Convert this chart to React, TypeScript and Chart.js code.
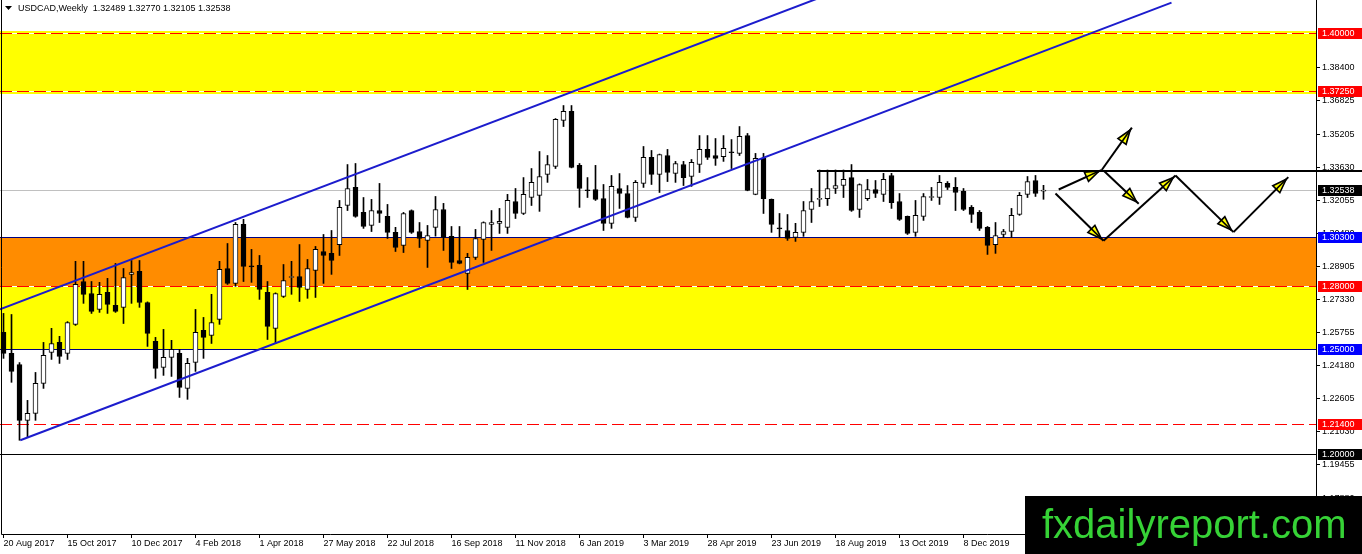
import React, { useEffect, useRef } from "react";
import { Chart, registerables } from "chart.js";
Chart.register(...registerables);

// ---------- DATA (weekly USDCAD candles, index 0 = week of 20 Aug 2017) ----------
const opens = [
  1.2577, 1.2477, 1.2424, 1.2158, 1.2191, 1.2334, 1.2481, 1.2529, 1.2477, 1.2615,
  1.2819, 1.2762, 1.2686, 1.2767, 1.2705, 1.2696, 1.2853, 1.2867, 1.2719, 1.2534,
  1.2410, 1.2458, 1.2477, 1.2310, 1.2434, 1.2586, 1.2562, 1.2639, 1.2881, 1.2810,
  1.3091, 1.2891, 1.2896, 1.2767, 1.2596, 1.2748, 1.2838, 1.2843, 1.2781, 1.2872,
  1.2962, 1.2953, 1.2995, 1.3181, 1.3267, 1.3148, 1.3086, 1.3157, 1.3129, 1.3053,
  1.2991, 1.3157, 1.3057, 1.3015, 1.3077, 1.3162, 1.3034, 1.2919, 1.2858, 1.2934,
  1.3019, 1.3091, 1.3096, 1.3077, 1.3200, 1.3143, 1.3219, 1.3229, 1.3329, 1.3367,
  1.3586, 1.3629, 1.3372, 1.3253, 1.3257, 1.3214, 1.3096, 1.3262, 1.3238, 1.3124,
  1.3286, 1.3410, 1.3329, 1.3419, 1.3334, 1.3376, 1.3319, 1.3376, 1.3448, 1.3419,
  1.3414, 1.3434, 1.3429, 1.3514, 1.3234, 1.3405, 1.3210, 1.3072, 1.3062, 1.3029,
  1.3053, 1.3162, 1.3210, 1.3214, 1.3262, 1.3276, 1.3314, 1.3162, 1.3214, 1.3257,
  1.3234, 1.3324, 1.3200, 1.3129, 1.3053, 1.3129, 1.3219, 1.3219, 1.3286, 1.3267,
  1.3248, 1.3172, 1.3148, 1.3077, 1.2995, 1.3043, 1.3057, 1.3138, 1.3234, 1.3300,
  1.32489,
];
const highs = [
  1.2667, 1.2662, 1.2433, 1.2253, 1.2386, 1.2529, 1.2596, 1.2558, 1.2628, 1.2915,
  1.2915, 1.2819, 1.2815, 1.2834, 1.2905, 1.2881, 1.2919, 1.2919, 1.2722, 1.2553,
  1.2591, 1.2539, 1.2496, 1.2453, 1.2686, 1.2648, 1.2758, 1.2915, 1.3000, 1.3100,
  1.3115, 1.2972, 1.2943, 1.2819, 1.2765, 1.2900, 1.2915, 1.2995, 1.2924, 1.2986,
  1.3043, 1.3062, 1.3205, 1.3376, 1.3381, 1.3219, 1.3210, 1.3286, 1.3186, 1.3077,
  1.3148, 1.3160, 1.3100, 1.3086, 1.3224, 1.3191, 1.3081, 1.3081, 1.2953, 1.3067,
  1.3103, 1.3157, 1.3167, 1.3234, 1.3262, 1.3314, 1.3357, 1.3438, 1.3419, 1.3595,
  1.3657, 1.3657, 1.3381, 1.3314, 1.3372, 1.3281, 1.3324, 1.3333, 1.3276, 1.3300,
  1.3462, 1.3443, 1.3426, 1.3448, 1.3391, 1.3391, 1.3400, 1.3514, 1.3514, 1.3500,
  1.3514, 1.3495, 1.3557, 1.3524, 1.3429, 1.3429, 1.3212, 1.3143, 1.3138, 1.3096,
  1.3200, 1.3262, 1.3350, 1.3350, 1.3350, 1.3350, 1.3376, 1.3284, 1.3305, 1.3300,
  1.3334, 1.3334, 1.3238, 1.3131, 1.3205, 1.3238, 1.3267, 1.3324, 1.3295, 1.3314,
  1.3262, 1.3181, 1.3157, 1.3081, 1.3100, 1.3067, 1.3167, 1.3243, 1.3319, 1.3324,
  1.32770,
];
const lows = [
  1.2453, 1.2339, 1.2063, 1.2077, 1.2158, 1.2310, 1.2448, 1.2429, 1.2448, 1.2610,
  1.2715, 1.2667, 1.2672, 1.2667, 1.2672, 1.2619, 1.2715, 1.2696, 1.2510, 1.2358,
  1.2372, 1.2367, 1.2267, 1.2258, 1.2391, 1.2453, 1.2524, 1.2615, 1.2805, 1.2796,
  1.2819, 1.2815, 1.2734, 1.2543, 1.2524, 1.2743, 1.2758, 1.2724, 1.2739, 1.2743,
  1.2810, 1.2853, 1.2943, 1.3157, 1.3125, 1.3072, 1.3057, 1.3100, 1.3024, 1.2962,
  1.2957, 1.3048, 1.2981, 1.2886, 1.3035, 1.2967, 1.2881, 1.2903, 1.2781, 1.2924,
  1.2910, 1.2967, 1.3048, 1.3048, 1.3119, 1.3138, 1.3181, 1.3153, 1.3291, 1.3357,
  1.3557, 1.3360, 1.3172, 1.3219, 1.3205, 1.3062, 1.3072, 1.3167, 1.3122, 1.3105,
  1.3267, 1.3281, 1.3243, 1.3295, 1.3291, 1.3276, 1.3272, 1.3338, 1.3400, 1.3372,
  1.3391, 1.3357, 1.3419, 1.3251, 1.3232, 1.3143, 1.3053, 1.3029, 1.3015, 1.3010,
  1.3034, 1.3100, 1.3176, 1.3181, 1.3238, 1.3219, 1.3153, 1.3124, 1.3205, 1.3219,
  1.3200, 1.3167, 1.3110, 1.3043, 1.3034, 1.3110, 1.3205, 1.3186, 1.3257, 1.3157,
  1.3157, 1.3100, 1.3062, 1.2948, 1.2953, 1.3029, 1.3029, 1.3134, 1.3219, 1.3224,
  1.32105,
];
const closes = [
  1.2477, 1.2391, 1.2158, 1.2191, 1.2334, 1.2467, 1.2524, 1.2462, 1.2624, 1.2805,
  1.2758, 1.2677, 1.2758, 1.2710, 1.2677, 1.2838, 1.2862, 1.2719, 1.2572, 1.2405,
  1.2458, 1.2496, 1.2315, 1.2429, 1.2577, 1.2553, 1.2624, 1.2877, 1.2810, 1.3091,
  1.2891, 1.2889, 1.2781, 1.2605, 1.2762, 1.2824, 1.2843, 1.2791, 1.2881, 1.2972,
  1.2943, 1.2919, 1.3172, 1.3262, 1.3129, 1.3081, 1.3157, 1.3143, 1.3053, 1.2981,
  1.3143, 1.3053, 1.3024, 1.3038, 1.3162, 1.3029, 1.2910, 1.2905, 1.2934, 1.3024,
  1.3100, 1.3100, 1.3105, 1.3205, 1.3143, 1.3234, 1.3291, 1.3319, 1.3376, 1.3591,
  1.3629, 1.3362, 1.3262, 1.3251, 1.3210, 1.3096, 1.3272, 1.3238, 1.3124, 1.3291,
  1.3410, 1.3329, 1.3424, 1.3338, 1.3381, 1.3314, 1.3386, 1.3448, 1.3410, 1.3405,
  1.3453, 1.3432, 1.3510, 1.3253, 1.3405, 1.3214, 1.3091, 1.3070, 1.3024, 1.3053,
  1.3157, 1.3200, 1.3212, 1.3262, 1.3276, 1.3305, 1.3157, 1.3281, 1.3257, 1.3238,
  1.3305, 1.3195, 1.3115, 1.3048, 1.3134, 1.3224, 1.3221, 1.3291, 1.3267, 1.3243,
  1.3162, 1.3138, 1.3072, 1.2991, 1.3038, 1.3057, 1.3134, 1.3229, 1.3295, 1.3238,
  1.32538,
];

const dateTickIndex = [0, 8, 16, 24, 32, 40, 48, 56, 64, 72, 80, 88, 96, 104, 112, 120];
const dateTickLabels = [
  "20 Aug 2017", "15 Oct 2017", "10 Dec 2017", "4 Feb 2018", "1 Apr 2018", "27 May 2018",
  "22 Jul 2018", "16 Sep 2018", "11 Nov 2018", "6 Jan 2019", "3 Mar 2019", "28 Apr 2019",
  "23 Jun 2019", "18 Aug 2019", "13 Oct 2019", "8 Dec 2019",
];
const priceTicks = [
  1.384, 1.36825, 1.35205, 1.3363, 1.32055, 1.3048, 1.28905, 1.2733, 1.25755, 1.2418,
  1.22605, 1.2103, 1.19455, 1.1788,
];

// shaded zones (top / bottom price)
const zoneTops = [1.4014, 1.303, 1.28];
const zoneBottoms = [1.3712, 1.28, 1.25];

// horizontal levels
const levelPrices = [1.4, 1.3725, 1.303, 1.28, 1.25, 1.214, 1.2];

// trend channel (index, price)
const channelUpper = [
  { x: -0.45, y: 1.2686 },
  { x: 102, y: 1.417 },
];
const channelLower = [
  { x: 2.1, y: 1.2063 },
  { x: 146, y: 1.4147 },
];

// resistance line
const resistancePrice = 1.3344;
const resistanceStart = 101.7;

// scenario arrows
const arrowFromX = [131.9, 137.3, 137.5, 131.5, 137.5, 146.5, 153.75];
const arrowFromY = [1.3257, 1.3351, 1.3348, 1.3238, 1.3013, 1.3324, 1.3054];
const arrowToX = [137.3, 141.05, 141.9, 137.5, 146.5, 153.75, 160.6];
const arrowToY = [1.3351, 1.3552, 1.3189, 1.3013, 1.3324, 1.3054, 1.3316];

// ---------- STYLES ----------
const zoneColors = ["#ffff00", "#ff8c00", "#ffff00"];
const levelStyles = [
  { color: "#ff0000", dash: [12, 5], label: "#ff0000" },
  { color: "#ff0000", dash: [12, 5], label: "#ff0000" },
  { color: "#000080", dash: null, label: "#0000ff" },
  { color: "#ff0000", dash: [12, 5], label: "#ff0000" },
  { color: "#000080", dash: null, label: "#0000ff" },
  { color: "#ff0000", dash: [12, 5], label: "#ff0000" },
  { color: "#000000", dash: null, label: "#000000" },
];
const FONT = "'Liberation Sans', Arial, sans-serif";
const CHANNEL_COLOR = "rgb(28,28,205)";

function drawArrow(ctx: CanvasRenderingContext2D, x1: number, y1: number, x2: number, y2: number) {
  const ang = Math.atan2(y2 - y1, x2 - x1);
  const c = Math.cos(ang), s = Math.sin(ang);
  const back = 3, len = 14, hw = 5;
  const tx = x2 - c * back, ty = y2 - s * back;
  const bx = tx - c * len, by = ty - s * len;
  const px = -s * hw, py = c * hw;
  ctx.strokeStyle = "#000";
  ctx.lineWidth = 2;
  ctx.beginPath();
  ctx.moveTo(x1, y1);
  ctx.lineTo(x2, y2);
  ctx.stroke();
  ctx.beginPath();
  ctx.moveTo(tx, ty);
  ctx.lineTo(bx + px, by + py);
  ctx.lineTo(bx - px, by - py);
  ctx.closePath();
  ctx.fillStyle = "#ffff00";
  ctx.fill();
  ctx.lineWidth = 1.6;
  ctx.stroke();
  ctx.beginPath();
  ctx.moveTo(bx, by);
  ctx.lineTo(tx, ty);
  ctx.stroke();
}

const overlayPlugin = {
  id: "overlay",
  beforeDatasetsDraw(chart: any) {
    const { ctx, chartArea: a, scales } = chart;
    const y = scales.y;
    ctx.save();
    ctx.beginPath();
    ctx.rect(a.left, a.top, a.right - a.left, a.bottom - a.top);
    ctx.clip();
    zoneTops.forEach((t, k) => {
      const y1 = Math.round(y.getPixelForValue(t));
      const y2 = Math.round(y.getPixelForValue(zoneBottoms[k]));
      ctx.fillStyle = zoneColors[k];
      ctx.fillRect(a.left, y1, a.right - a.left, y2 - y1);
    });
    levelPrices.forEach((p, k) => {
      const yy = Math.round(y.getPixelForValue(p)) + 0.5;
      const st = levelStyles[k];
      ctx.lineWidth = 1;
      if (st.dash) {
        ctx.setLineDash([]);
        ctx.strokeStyle = "#ffffff";
        ctx.beginPath();
        ctx.moveTo(a.left, yy);
        ctx.lineTo(a.right, yy);
        ctx.stroke();
      }
      ctx.setLineDash(st.dash || []);
      ctx.strokeStyle = st.color;
      ctx.beginPath();
      ctx.moveTo(a.left, yy);
      ctx.lineTo(a.right, yy);
      ctx.stroke();
    });
    ctx.setLineDash([]);
    // current price line
    const last = closes[closes.length - 1];
    const yp = Math.round(y.getPixelForValue(last)) + 0.5;
    ctx.strokeStyle = "#c0c0c0";
    ctx.beginPath();
    ctx.moveTo(a.left, yp);
    ctx.lineTo(a.right, yp);
    ctx.stroke();
    ctx.restore();
  },
  afterDatasetsDraw(chart: any) {
    const { ctx, chartArea: a, scales } = chart;
    const x = scales.x, y = scales.y;
    ctx.save();
    ctx.beginPath();
    ctx.rect(a.left, a.top, a.right - a.left, a.bottom - a.top);
    ctx.clip();
    arrowFromX.forEach((fx, k) => {
      drawArrow(
        ctx,
        x.getPixelForValue(fx),
        y.getPixelForValue(arrowFromY[k]),
        x.getPixelForValue(arrowToX[k]),
        y.getPixelForValue(arrowToY[k])
      );
    });
    ctx.restore();
  },
  afterDraw(chart: any) {
    const { ctx, chartArea: a, scales, width, height } = chart;
    const x = scales.x, y = scales.y;
    ctx.save();
    // frame
    ctx.strokeStyle = "#000";
    ctx.lineWidth = 1;
    ctx.beginPath();
    ctx.moveTo(1.5, a.top);
    ctx.lineTo(1.5, a.bottom + 0.5);
    ctx.lineTo(a.right + 0.5, a.bottom + 0.5);
    ctx.lineTo(a.right + 0.5, a.top);
    ctx.stroke();
    // resistance line
    const yr = Math.round(y.getPixelForValue(resistancePrice));
    ctx.fillStyle = "#000";
    ctx.fillRect(Math.round(x.getPixelForValue(resistanceStart)), yr - 1, width, 2);
    // price labels
    ctx.font = `9px ${FONT}`;
    ctx.textBaseline = "middle";
    ctx.textAlign = "left";
    const drawLabel = (p: number, bg: string) => {
      const yy = Math.round(y.getPixelForValue(p));
      ctx.fillStyle = bg;
      ctx.fillRect(a.right + 2, yy - 5, width - a.right - 2, 11);
      ctx.fillStyle = "#fff";
      ctx.fillText(p.toFixed(5), a.right + 6, yy + 0.5);
    };
    levelPrices.forEach((p, k) => drawLabel(p, levelStyles[k].label));
    drawLabel(closes[closes.length - 1], "#000000");
    // title
    const n = closes.length - 1;
    ctx.fillStyle = "#000";
    ctx.beginPath();
    ctx.moveTo(5, 6);
    ctx.lineTo(12, 6);
    ctx.lineTo(8.5, 10);
    ctx.closePath();
    ctx.fill();
    ctx.font = `9px ${FONT}`;
    ctx.fillText(
      `USDCAD,Weekly  ${opens[n].toFixed(5)} ${highs[n].toFixed(5)} ${lows[n].toFixed(5)} ${closes[n].toFixed(5)}`,
      18,
      9
    );
    // watermark
    ctx.fillStyle = "#000";
    ctx.fillRect(1025, 496, width - 1025, height - 496);
    ctx.fillStyle = "#36d236";
    ctx.font = `40px ${FONT}`;
    ctx.textBaseline = "alphabetic";
    ctx.fillText("fxdailyreport.com", 1042, 538);
    ctx.restore();
  },
};

const zeroPadding = (scale: any) => {
  scale.paddingTop = 0;
  scale.paddingBottom = 0;
  scale.paddingLeft = 0;
  scale.paddingRight = 0;
};

export default function App() {
  const canvasRef = useRef<HTMLCanvasElement | null>(null);

  useEffect(() => {
    const canvas = canvasRef.current;
    if (!canvas) return;
    const wickData = highs.map((h, i) => ({ x: i, y: [lows[i], h] }));
    const bodyData = opens.map((o, i) => ({ x: i, y: [o, closes[i]] }));
    const bodyColors = opens.map((o, i) => (closes[i] >= o ? "#ffffff" : "#000000"));

    const chart = new Chart(canvas, {
      type: "bar",
      data: {
        datasets: [
          {
            type: "line",
            data: channelUpper,
            borderColor: CHANNEL_COLOR,
            borderWidth: 2,
            pointRadius: 0,
            order: 0,
          } as any,
          {
            type: "line",
            data: channelLower,
            borderColor: CHANNEL_COLOR,
            borderWidth: 2,
            pointRadius: 0,
            order: 0,
          } as any,
          {
            data: bodyData as any,
            backgroundColor: bodyColors,
            borderColor: "#000000",
            borderWidth: 1,
            borderSkipped: false,
            barThickness: 5,
            minBarLength: 1,
            grouped: false,
            order: 1,
          } as any,
          {
            data: wickData as any,
            backgroundColor: "#000000",
            borderWidth: 0,
            barThickness: 1,
            grouped: false,
            order: 2,
          } as any,
        ],
      },
      options: {
        animation: false,
        responsive: false,
        maintainAspectRatio: false,
        devicePixelRatio: 1,
        events: [],
        layout: { padding: 0 },
        plugins: { legend: { display: false }, tooltip: { enabled: false }, title: { display: false } },
        scales: {
          x: {
            type: "linear",
            min: -0.4375,
            max: 164.0625,
            offset: false,
            position: "bottom",
            border: { display: false },
            grid: { display: true, drawOnChartArea: false, drawTicks: true, tickLength: 4, color: "#000", offset: false },
            afterBuildTicks: (scale: any) => {
              scale.ticks = dateTickIndex.map((v) => ({ value: v }));
            },
            afterFit: (scale: any) => {
              scale.height = 20;
              zeroPadding(scale);
            },
            ticks: {
              autoSkip: false,
              maxRotation: 0,
              minRotation: 0,
              align: "start",
              padding: 0,
              color: "#000",
              font: { family: FONT, size: 9 },
              callback: (v: any) => dateTickLabels[dateTickIndex.indexOf(Number(v))] ?? "",
            },
          },
          y: {
            type: "linear",
            position: "right",
            min: 1.161667,
            max: 1.415952,
            border: { display: false },
            grid: { display: true, drawOnChartArea: false, drawTicks: true, tickLength: 4, color: "#000" },
            afterBuildTicks: (scale: any) => {
              scale.ticks = priceTicks.map((v) => ({ value: v }));
            },
            afterFit: (scale: any) => {
              scale.width = 46;
              zeroPadding(scale);
            },
            ticks: {
              autoSkip: false,
              padding: 2,
              color: "#000",
              font: { family: FONT, size: 9 },
              callback: (v: any) => Number(v).toFixed(5),
            },
          },
        },
      } as any,
      plugins: [overlayPlugin as any],
    });
    return () => chart.destroy();
  }, []);

  return (
    <div style={{ position: "fixed", left: 0, top: 0, width: 1362, height: 554, background: "#fff" }}>
      <canvas ref={canvasRef} width={1362} height={554} style={{ display: "block" }} />
    </div>
  );
}
